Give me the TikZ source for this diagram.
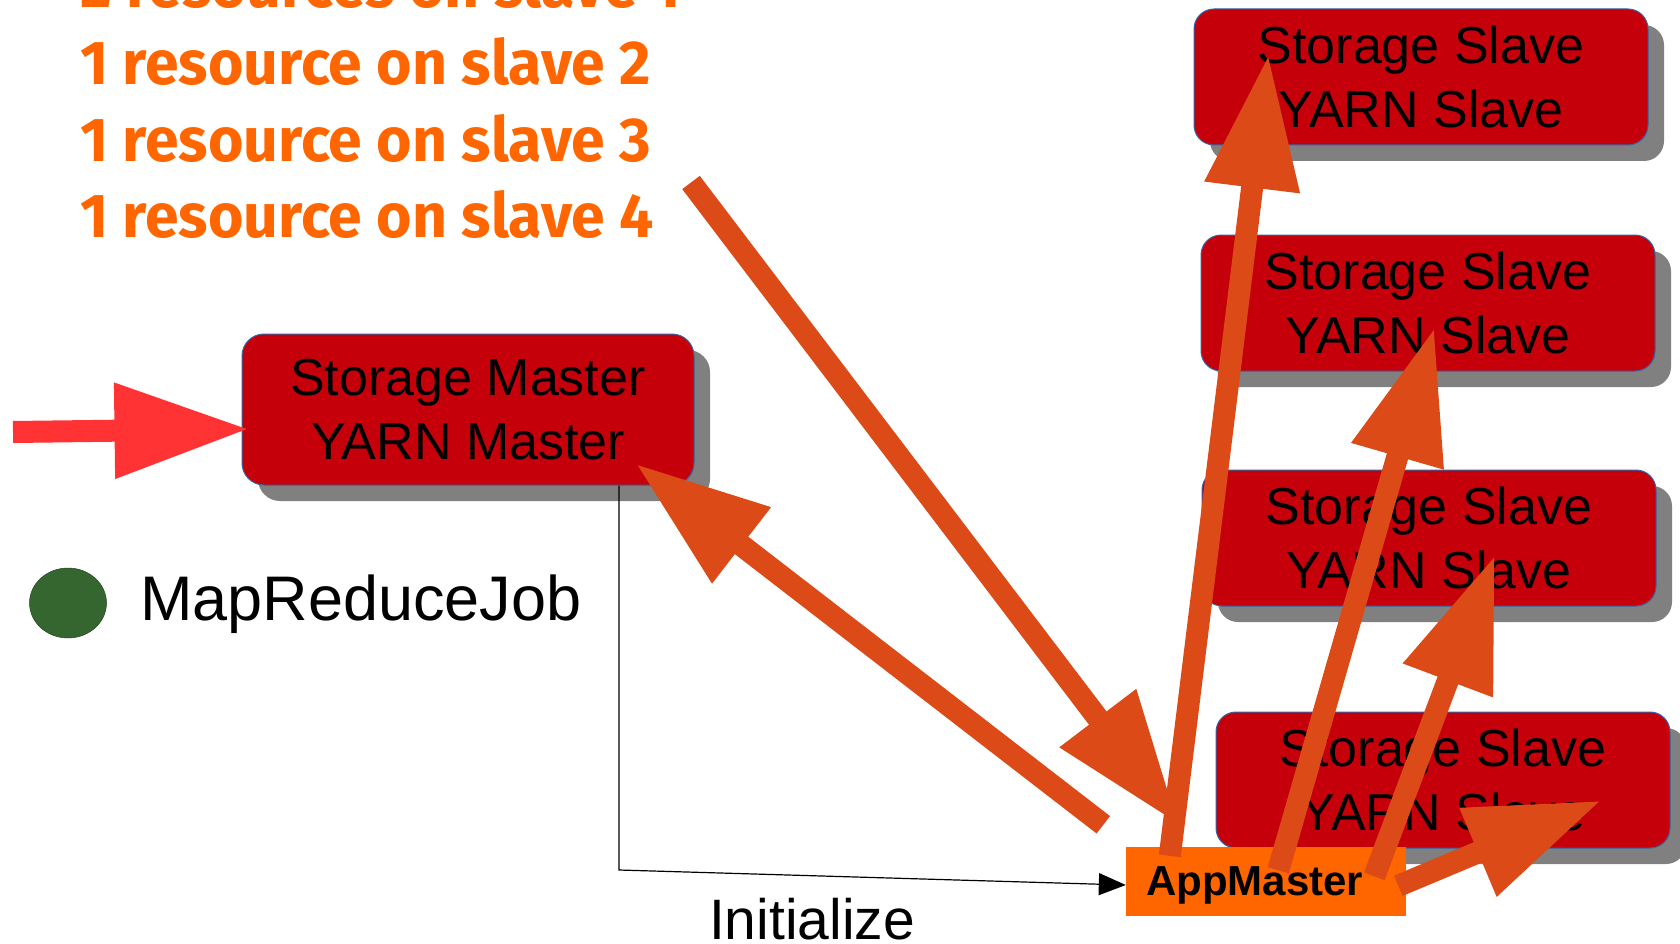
\documentclass[tikz,border=0pt]{standalone}
\usepackage{fontspec}
\setmainfont{Liberation Sans}
\newfontfamily\notefont[FakeStretch=0.98]{Fira Sans}
\usetikzlibrary{arrows.meta,shadows,shapes.geometric}

\definecolor{boxred}{HTML}{C5000B}
\definecolor{boxline}{HTML}{3465A4}
\definecolor{shadowgray}{HTML}{808080}
\definecolor{appm}{HTML}{FF6600}
\definecolor{noteorange}{HTML}{FF6600}
\definecolor{bigarrow}{HTML}{DC4A17}
\definecolor{inred}{HTML}{FF3333}
\definecolor{jobgreen}{HTML}{35662F}

\begin{document}
\begin{tikzpicture}[x=1pt, y=-1pt,
    box/.style = {draw=boxline, line width=1pt, fill=boxred, rounded corners=20pt,
        minimum width=454pt, minimum height=136pt, align=center,
        font=\fontsize{52}{64}\selectfont,
        drop shadow={shadow xshift=16pt, shadow yshift=-16pt, fill=shadowgray, opacity=1}},
    big/.style = {draw=bigarrow, line width=22pt, -{Triangle[length=134pt, width=90pt]}}]
        \useasboundingbox (0,0) rectangle (1680,944);

        \node[box, minimum width=452pt, minimum height=151pt, rounded corners=22pt] (M) at (468,409.5) {Storage Master\\YARN Master};
        \node[box] (S1) at (1421,77) {Storage Slave\\YARN Slave};
        \node[box] (S2) at (1428,303) {Storage Slave\\YARN Slave};
        \node[box] (S3) at (1429,538) {Storage Slave\\YARN Slave};
        \node[box] (S4) at (1443,780) {Storage Slave\\YARN Slave};
        \node[fill=appm, minimum width=280pt, minimum height=69pt, text width=240pt, inner xsep=20pt,
            text depth=0pt, font=\bfseries\fontsize{42}{50}\selectfont] (am) at (1266,881.5) {AppMaster};

        \node[ellipse, fill=jobgreen, draw=jobgreen!70!black, line width=0.5pt, minimum width=77pt,
            minimum height=70pt, inner sep=0pt] (dot) at (68,603) {};
        \node[anchor=base west, inner sep=0pt, font=\fontsize{63}{70}\selectfont] (job) at (140,620) {MapReduceJob};
        \node[anchor=south west, inner sep=0pt, align=left, text=noteorange,
            font=\notefont\bfseries\fontsize{62}{76.7}\selectfont] (req) at (80,239)
            {2 resources on slave 1\\1 resource on slave 2\\1 resource on slave 3\\1 resource on slave 4};
        \node[anchor=base, inner sep=0pt, font=\fontsize{57}{64}\selectfont] (init) at (812,939) {Initialize};

        \coordinate (bend) at (619,870);
        \draw[line width=1.2pt, -{Triangle[length=27pt, width=22pt]}] (M.south -| bend) -- (bend) -- ([yshift=-3.5pt]am.west);

        \coordinate (in) at (13,432);
        \draw[draw=inred, line width=22pt, -{Triangle[length=135pt, width=90pt]}] (in) -- ([shift={(8,19.5)}]M.west);

        \coordinate (a0) at (691,182.5);
        \draw[big] (a0) -- ([shift={(53,-22)}]am.north west);
        \draw[big] ([shift={(-22.5,-22)}]am.north west) -- ([shift={(-59,-22)}]M.south east);
        \draw[big] ([shift={(44,9)}]am.north west) -- ([shift={(75,46)}]S1.north west);
        \draw[big] ([shift={(152.5,23.5)}]am.north west) -- ([shift={(6.5,24.5)}]S2.center);
        \draw[big] ([shift={(248.5,29.5)}]am.north west) -- ([shift={(66,17)}]S3.center);
        \draw[big] ([shift={(272.5,39)}]am.north west) -- ([shift={(158.5,20.5)}]S4.center);
    \end{tikzpicture}
\end{document}
